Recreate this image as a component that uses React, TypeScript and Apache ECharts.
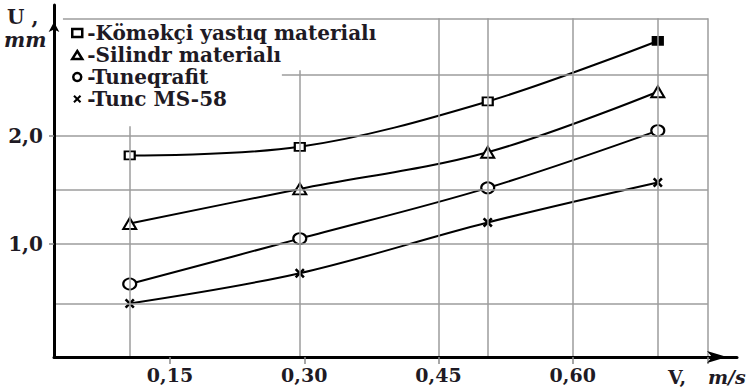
import React, { useEffect, useRef } from 'react';
import * as echarts from 'echarts';

// ---- data ----
const seriesNames = ['Köməkçi yastıq materialı', 'Silindr materialı', 'Tuneqrafit', 'Tunc MS-58'];
const speedV = [0.105, 0.295, 0.505, 0.695];
const wearKomekci = [1.82, 1.9, 2.32, 2.88];
const wearSilindr = [1.19, 1.51, 1.85, 2.41];
const wearTuneqrafit = [0.63, 1.05, 1.52, 2.05];
const wearTunc = [0.45, 0.73, 1.2, 1.57];

const xTickLabels = [0.15, 0.3, 0.45, 0.6];
const xTickMarks = [0.15, 0.3, 0.45, 0.6, 0.751];
const yTickLabels = [1.0, 2.0];

const X_MIN = 0.0204;
const X_MAX = 0.7835;
const Y_MIN = -0.046;
const Y_MAX = 3.213;

// grid lines of the figure (axis values)
const xGridLines = [0.105, 0.295, 0.45, 0.505, 0.6, 0.695, 0.751];
const xGridTops = [2.09, 2.61, 3.09, 3.09, 3.09, 3.09, 3.09];
const yGridLines = [0.45, 1.0, 1.5, 2.0, 2.57, 3.09];
const yGridStarts = [X_MIN, X_MIN, X_MIN, X_MIN, 0.275, 0.0304];

const FONT = "'DejaVu Serif', serif";
const TEXT = '#1e1a24';
const CROSS = 'path://M0,1.8L1.8,0L5,3.2L8.2,0L10,1.8L6.8,5L10,8.2L8.2,10L5,6.8L1.8,10L0,8.2L3.2,5Z';

const symbols = ['rect', 'triangle', 'circle', CROSS];
const symbolSizes = [[10, 8], [13, 11], [13, 11], [10, 10]];
const values = [wearKomekci, wearSilindr, wearTuneqrafit, wearTunc];

export default function App() {
  const ref = useRef<HTMLDivElement>(null);

  useEffect(() => {
    if (!ref.current) return;
    const chart = echarts.init(ref.current, undefined, { renderer: 'svg' });

    const xRight = xGridLines[xGridLines.length - 1];
    const gridSegments: any[] = [
      ...xGridLines.map((x, i) => [{ coord: [x, Y_MIN] }, { coord: [x, xGridTops[i]] }]),
      ...yGridLines.map((y, i) => [{ coord: [yGridStarts[i], y] }, { coord: [xRight, y] }]),
    ];

    const hollow = (i: number, bw = 2) =>
      i === 3
        ? { color: '#000', borderColor: '#000', borderWidth: 0 }
        : { color: '#fff', borderColor: '#000', borderWidth: bw };

    const dataSeries = seriesNames.map((name, i) => ({
      type: 'line',
      name,
      z: 3,
      smooth: 0.35,
      symbol: symbols[i],
      symbolSize: symbolSizes[i],
      showSymbol: true,
      lineStyle: { color: '#000', width: 2 },
      itemStyle: hollow(i),
      emphasis: { disabled: true },
      data: speedV.map((v, k) =>
        i === 0 && k === speedV.length - 1
          ? { value: [v, values[i][k]], itemStyle: { color: '#000' } }
          : [v, values[i][k]]
      ),
    }));

    const option: any = {
      animation: false,
      backgroundColor: '#fff',
      grid: { left: 54, right: 16, top: 5, bottom: 34, containLabel: false },
      legend: {
        show: true,
        orient: 'vertical',
        left: 71,
        top: 22,
        padding: 0,
        itemGap: 0,
        itemWidth: 10,
        itemHeight: 8,
        selectedMode: false,
        formatter: (n: string) => '-' + n,
        textStyle: { fontFamily: FONT, fontWeight: 'bold', fontSize: 20, lineHeight: 22, color: TEXT },
        data: seriesNames.map((name, i) => ({
          name,
          icon: symbols[i],
          itemStyle: hollow(i, 2.5),
        })),
      },
      xAxis: {
        type: 'value',
        min: X_MIN,
        max: X_MAX,
        z: 5,
        axisLine: {
          show: true,
          onZero: false,
          lineStyle: { color: '#000', width: 3 },
          symbol: ['none', 'arrow'],
          symbolSize: [9, 20],
          symbolOffset: [0, -10],
        },
        axisTick: { show: true, customValues: xTickMarks, length: 7, lineStyle: { color: '#888', width: 1.5 } },
        axisLabel: {
          customValues: xTickLabels,
          formatter: (v: number) => v.toFixed(2).replace('.', ','),
          margin: 8,
          fontFamily: FONT,
          fontWeight: 'bold',
          fontSize: 19,
          color: TEXT,
        },
        splitLine: { show: false },
      },
      yAxis: {
        type: 'value',
        min: Y_MIN,
        max: Y_MAX,
        z: 5,
        axisLine: {
          show: true,
          onZero: false,
          lineStyle: { color: '#000', width: 3 },
          symbol: ['none', 'arrow'],
          symbolSize: [8, 10],
          symbolOffset: [0, -17],
        },
        axisTick: { show: true, customValues: yTickLabels, length: 5, lineStyle: { color: '#888', width: 1.5 } },
        axisLabel: {
          customValues: yTickLabels,
          formatter: (v: number) => v.toFixed(1).replace('.', ','),
          margin: 11,
          fontFamily: FONT,
          fontWeight: 'bold',
          fontSize: 20,
          color: TEXT,
        },
        splitLine: { show: false },
      },
      graphic: [
        {
          type: 'text',
          x: 7,
          y: 17,
          style: { text: 'U ,', fontFamily: FONT, fontWeight: 'bold', fontSize: 20, fill: TEXT, verticalAlign: 'middle' },
        },
        {
          type: 'text',
          x: 4,
          y: 40,
          style: {
            text: 'mm',
            fontFamily: FONT,
            fontWeight: 'bold',
            fontStyle: 'italic',
            fontSize: 20,
            fill: TEXT,
            verticalAlign: 'middle',
          },
        },
        {
          type: 'text',
          x: 668,
          y: 377,
          style: { text: 'V,', fontFamily: FONT, fontWeight: 'bold', fontSize: 19, fill: TEXT, verticalAlign: 'middle' },
        },
        {
          type: 'text',
          x: 708,
          y: 377,
          style: {
            text: 'm/s',
            fontFamily: FONT,
            fontWeight: 'bold',
            fontStyle: 'italic',
            fontSize: 19,
            fill: TEXT,
            verticalAlign: 'middle',
          },
        },
      ],
      series: [
        {
          type: 'line',
          z: 1,
          silent: true,
          data: [],
          markLine: {
            silent: true,
            symbol: ['none', 'none'],
            label: { show: false },
            emphasis: { disabled: true },
            lineStyle: { color: '#9c9c9c', width: 1.5, type: 'solid' },
            data: gridSegments,
          },
        },
        ...dataSeries,
      ],
    };

    chart.setOption(option);
    return () => chart.dispose();
  }, []);

  return <div ref={ref} style={{ position: 'absolute', left: 0, top: 0, width: 753, height: 391 }} />;
}
